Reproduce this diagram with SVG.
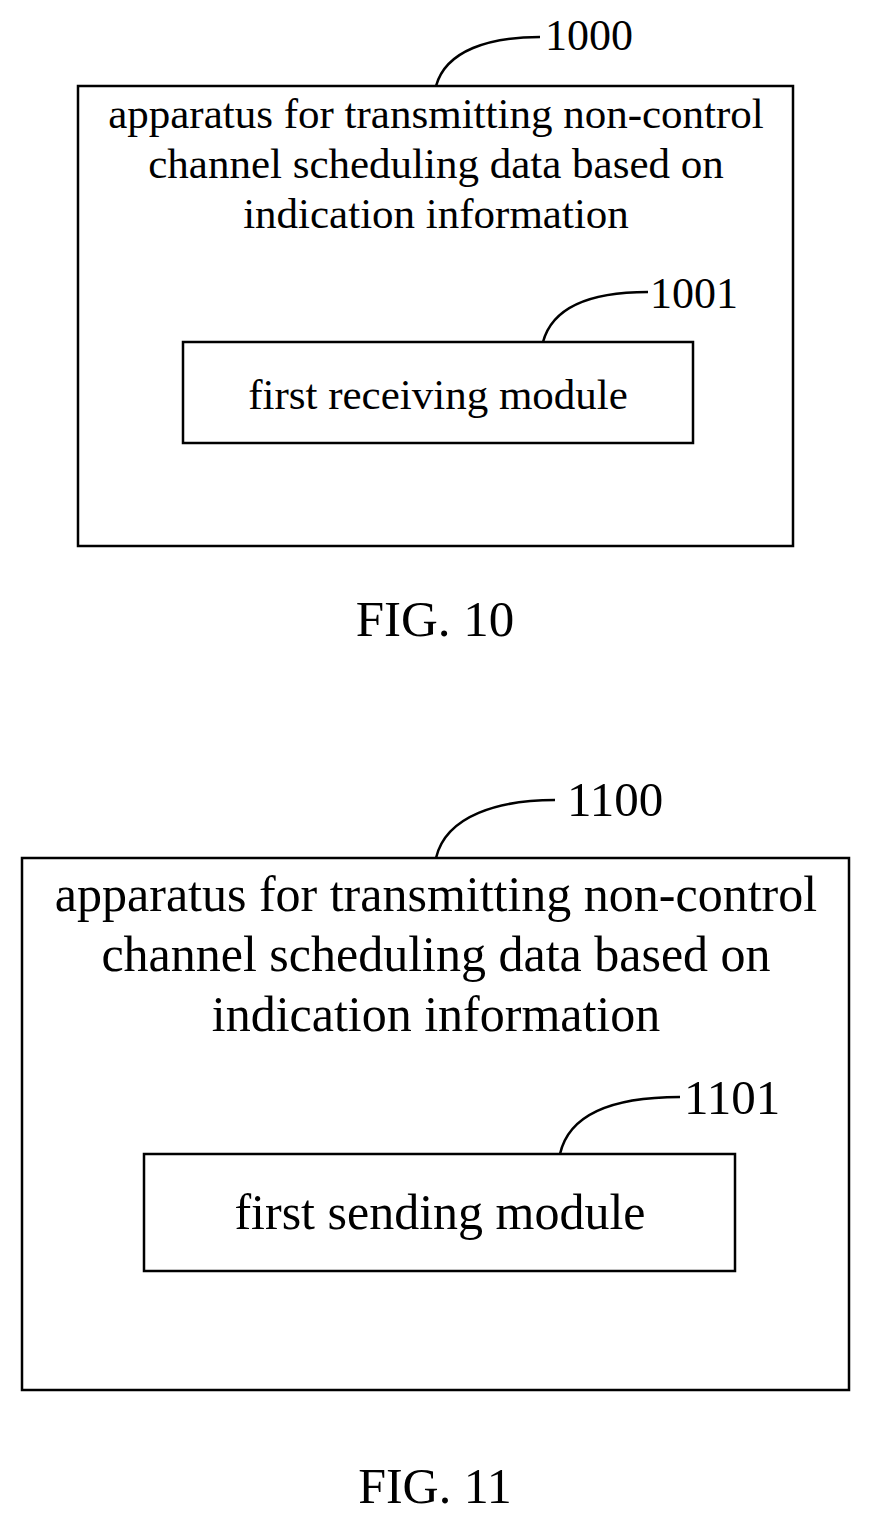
<svg xmlns="http://www.w3.org/2000/svg" width="871" height="1521" viewBox="0 0 871 1521">
<style>
.b{fill:none;stroke:#000;stroke-width:2.5}
.l{fill:none;stroke:#000;stroke-width:2.5}
text{font-family:"Liberation Serif","Times New Roman",serif;fill:#000}
.c{text-anchor:middle}
</style>
<rect width="871" height="1521" fill="#fff"/>
<g id="n1000"><rect class="b" x="78" y="86" width="715" height="460"/>
<text class="c" x="436" y="128" font-size="43">apparatus for transmitting non-control</text>
<text class="c" x="436" y="178" font-size="43">channel scheduling data based on</text>
<text class="c" x="436" y="228" font-size="43">indication information</text>
<text x="545" y="50" font-size="44">1000</text></g>
<g id="n1001"><rect class="b" x="183" y="342" width="510" height="101"/>
<text class="c" x="438" y="409" font-size="43">first receiving module</text>
<text x="650" y="308" font-size="44">1001</text></g>
<g id="n1100"><rect class="b" x="22" y="858" width="827" height="532"/>
<text class="c" x="436" y="911" font-size="50">apparatus for transmitting non-control</text>
<text class="c" x="436" y="971" font-size="50">channel scheduling data based on</text>
<text class="c" x="436" y="1031" font-size="50">indication information</text>
<text x="567" y="816" font-size="49">1100</text></g>
<g id="n1101"><rect class="b" x="144" y="1154" width="591" height="117"/>
<text class="c" x="440" y="1229" font-size="50">first sending module</text>
<text x="684" y="1114" font-size="49">1101</text></g>
<g id="connectors">
<path class="l" d="M436 86 C446 50 490 37 540 37"/>
<path class="l" d="M543 342 C553 305 595 292 648 292"/>
<path class="l" d="M436 858 C446 815 500 800 555 800"/>
<path class="l" d="M560 1154 C570 1110 620 1097 680 1097"/>
</g>
<text class="c" x="435" y="636" font-size="51">FIG. 10</text>
<text class="c" x="435" y="1503" font-size="50">FIG. 11</text>
</svg>
